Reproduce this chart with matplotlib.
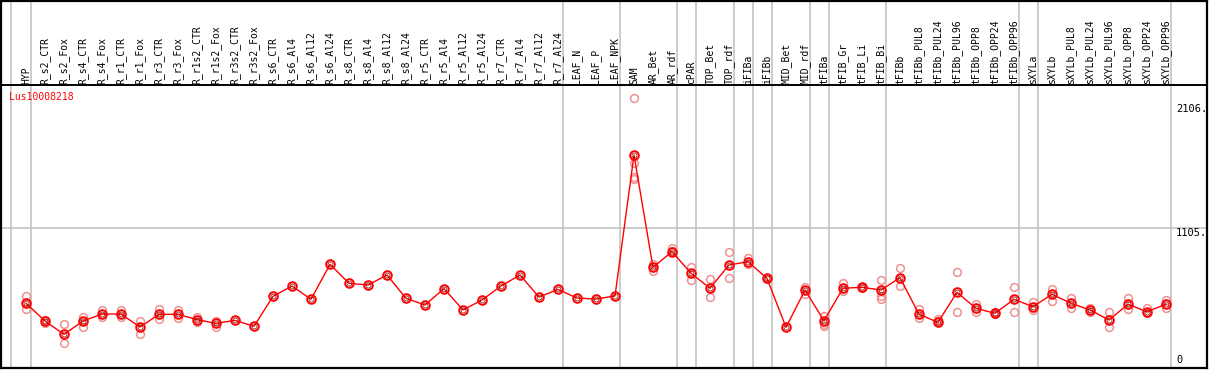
import matplotlib
matplotlib.use("Agg")
import matplotlib.pyplot as plt
import numpy as np

labels = ["HYP", "R_s2_CTR", "R_s2_Fox", "R_s4_CTR", "R_s4_Fox", "R_r1_CTR", "R_r1_Fox",
          "R_r3_CTR", "R_r3_Fox", "R_r1s2_CTR", "R_r1s2_Fox", "R_r3s2_CTR", "R_r3s2_Fox",
          "R_s6_CTR", "R_s6_Al4", "R_s6_Al12", "R_s6_Al24", "R_s8_CTR", "R_s8_Al4",
          "R_s8_Al12", "R_s8_Al24", "R_r5_CTR", "R_r5_Al4", "R_r5_Al12", "R_r5_Al24",
          "R_r7_CTR", "R_r7_Al4", "R_r7_Al12", "R_r7_Al24", "LEAF_N", "LEAF_P", "LEAF_NPK",
          "SAM", "AR_Bet", "AR_rdf", "cPAR", "TOP_Bet", "TOP_rdf", "iFIBa", "iFIBb",
          "MID_Bet", "MID_rdf", "tFIBa", "tFIB_Gr", "tFIB_Li", "tFIB_Bi", "tFIBb",
          "tFIBb_PUL8", "tFIBb_PUL24", "tFIBb_PUL96", "tFIBb_OPP8", "tFIBb_OPP24", "tFIBb_OPP96",
          "sXYLa", "sXYLb", "sXYLb_PUL8", "sXYLb_PUL24", "sXYLb_PUL96", "sXYLb_OPP8",
          "sXYLb_OPP24", "sXYLb_OPP96"]

means = [498, 355, 247, 355, 411, 411, 306, 409, 409, 366, 336, 360, 312,
         554, 637, 530, 812, 659, 645, 726, 538, 484, 616, 444, 524, 637, 726, 548, 610,
         540, 532, 557, 1694, 788, 914, 740, 619, 807, 833, 699, 304, 605, 357, 619, 627,
         605, 704, 409, 344, 586, 457, 417, 530, 470, 570, 498, 444, 363, 490, 430, 490]

replicates = {
    0: [558, 500, 450], 1: [363, 336], 2: [328, 175], 3: [390, 304], 4: [444, 387],
    5: [440, 385], 6: [357, 247], 7: [452, 371], 8: [444, 379], 9: [385, 345],
    10: [357, 310], 32: [2155, 1632, 1514, 1500], 33: [815, 761], 34: [941, 920],
    35: [788, 686], 36: [691, 546], 37: [909, 699], 38: [866, 817], 39: [705, 692],
    41: [632, 573], 42: [395, 315, 328], 43: [664, 598], 44: [632, 620],
    45: [686, 559, 532], 46: [780, 637], 47: [449, 382], 48: [368, 352],
    49: [748, 430], 50: [492, 425], 51: [425, 410], 52: [632, 425], 53: [506, 444],
    54: [613, 519], 55: [543, 462], 56: [457, 425], 57: [425, 304], 58: [543, 449],
    59: [457, 417], 60: [524, 462],
}

gene = "Lus10008218"
ytick_values = [2106, 1105, 0]
ytick_texts = ["2106.", "1105.", "0"]
separators_after = [-1, 0, 28, 31, 34, 35, 37, 38, 39, 41, 42, 45, 52, 53, 60]

W, H = 1209, 370
fig = plt.figure(figsize=(W / 100, H / 100), dpi=100)
# pixel geometry
x0_px, dx_px = 26.0, 19.0
zero_px, px_per_unit = 365.0, 137.0 / 1105.0
left_px, right_px, top_px, bot_px = 1, 1207, 0.5, 367.5
ax = fig.add_axes([left_px / W, 1 - bot_px / H, (right_px - left_px) / W, (bot_px - top_px) / H])
ax.set_xlim((left_px - x0_px) / dx_px, (right_px - x0_px) / dx_px)
def pv(py):
    return (zero_px - py) / px_per_unit
ax.set_ylim(pv(bot_px), pv(top_px))
ax.set_xticks([]); ax.set_yticks([])
for s in ax.spines.values():
    s.set_linewidth(1.6); s.set_color("black")

grey = "#c4c4c4"
for c in separators_after:
    off = -0.8 if c < 0 else 0.25
    ax.axvline(c + 1 + off if c < 0 else c + off, color=grey, lw=1.2, zorder=1)
ax.axhline(1105, color=grey, lw=1.2, zorder=1)
ax.axhline(pv(85), color="black", lw=1.4, zorder=2)

x = np.arange(len(labels))
for i, reps in replicates.items():
    ax.plot([i] * len(reps), reps, linestyle="none", marker="o", ms=5.6,
            mfc="none", mec="#ee9090", mew=1.1, zorder=3)
ax.plot(x, means, color="#ff0000", lw=1.0, zorder=4)
ax.plot(x, means, linestyle="none", marker="o", ms=6.2, mfc="none", mec="#ff0000",
        mew=1.4, zorder=5)
ax.plot(x, means, linestyle="none", marker="o", ms=3.6, mfc="none", mec="#770000",
        mew=0.5, zorder=6)

mono = "DejaVu Sans Mono"
for i, lab in enumerate(labels):
    ax.text(i, pv(83.5), lab, rotation=90, ha="center", va="bottom", fontsize=7,
            family=mono, color="black", zorder=7)

ax.text((9 - x0_px) / dx_px, pv(97), gene, color="#ff0000", fontsize=7,
        family=mono, va="center", ha="left", zorder=7)

tx = (1176 - x0_px) / dx_px
ax.text(tx, ytick_values[0], ytick_texts[0], fontsize=7.5, family=mono, va="top", ha="left")
ax.text(tx, ytick_values[1], ytick_texts[1], fontsize=7.5, family=mono, va="top", ha="left")
ax.text(tx, ytick_values[2], ytick_texts[2], fontsize=7.5, family=mono, va="bottom", ha="left")

fig.savefig("out.png", dpi=100)
